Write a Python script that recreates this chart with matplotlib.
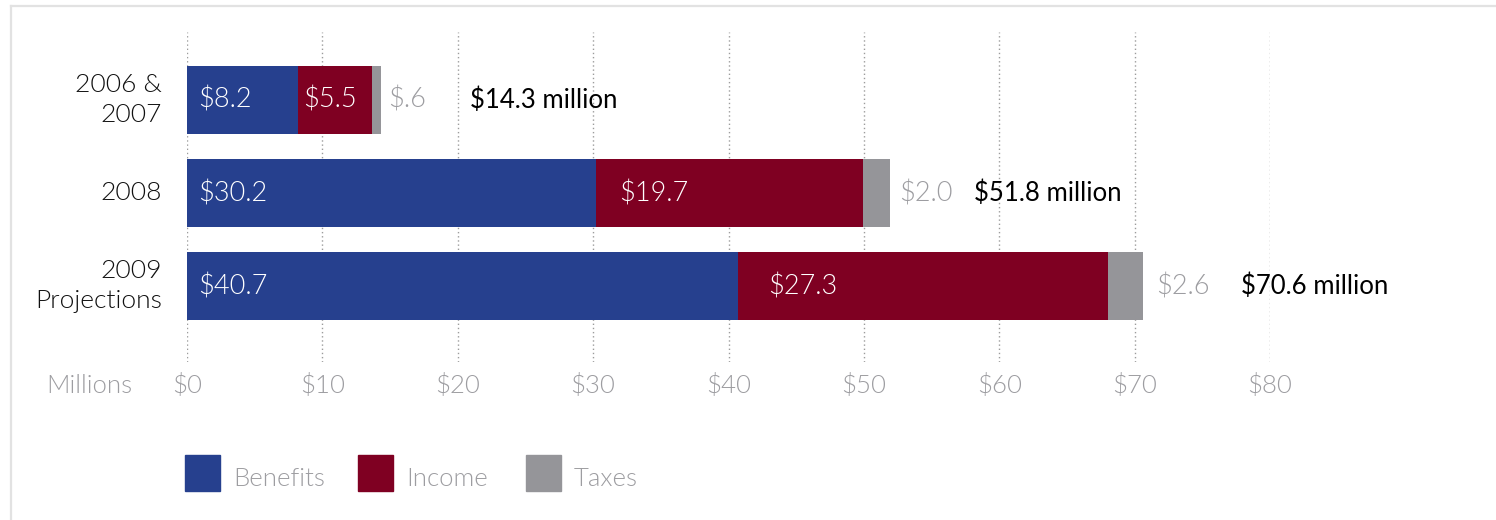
import matplotlib
matplotlib.use("Agg")
import matplotlib.pyplot as plt
from matplotlib.patches import Rectangle
from matplotlib.lines import Line2D

categories = ["2006 &\n2007", "2008", "2009\nProjections"]
benefits = [8.2, 30.2, 40.7]
income = [5.5, 19.7, 27.3]
taxes = [0.6, 2.0, 2.6]
benefit_labels = ["$8.2", "$30.2", "$40.7"]
income_labels = ["$5.5", "$19.7", "$27.3"]
tax_labels = ["$.6", "$2.0", "$2.6"]
total_labels = ["$14.3 million", "$51.8 million", "$70.6 million"]
xticks = [0, 10, 20, 30, 40, 50, 60, 70, 80]
xtick_labels = ["$0", "$10", "$20", "$30", "$40", "$50", "$60", "$70", "$80"]
series_names = ["Benefits", "Income", "Taxes"]

BLUE = "#26408e"
RED = "#7f0022"
GREY = "#959599"
LGREY = "#9d9da1"

FONT = "Lato"
LW = 300
plt.rcParams["font.family"] = [FONT, "DejaVu Sans"]

fig = plt.figure(figsize=(14.96, 5.2), dpi=100)
W, H = 1496, 520

# frame
fig.add_artist(Line2D([11 / W, 1], [1 - 6 / H, 1 - 6 / H], color="#e2e2e2", lw=1.6))
fig.add_artist(Line2D([11 / W, 11 / W], [0, 1 - 6 / H], color="#e2e2e2", lw=1.6))

ax = fig.add_axes([187 / W, 1 - 362 / H, (1270 - 187) / W, 330 / H])
ax.set_xlim(0, 80)
ax.set_ylim(2.817, -0.731)
for s in ax.spines.values():
    s.set_visible(False)
ax.set_xticks([])
ax.set_yticks([])

for xv in xticks:
    ax.axvline(xv, color="#9c9c9c", lw=1.0, ls=(0, (1, 2)), zorder=0)

ypos = list(range(len(categories)))
bh = 0.73
left_inc = [b for b in benefits]
left_tax = [b + i for b, i in zip(benefits, income)]
ax.barh(ypos, benefits, height=bh, color=BLUE, zorder=2)
ax.barh(ypos, income, left=left_inc, height=bh, color=RED, zorder=2)
ax.barh(ypos, taxes, left=left_tax, height=bh, color=GREY, zorder=2)

px = 0.72  # points per pixel
inc_off = [5, 23, 30]
tax_off = [8, 10, 13]
tot_off = [89, 84, 98]
for k, y in enumerate(ypos):
    ax.annotate(benefit_labels[k], (0, y), xytext=(11 * px, 0), textcoords="offset points",
                va="center", ha="left", color="white", fontsize=19.5, fontweight=LW)
    ax.annotate(income_labels[k], (left_inc[k], y), xytext=(inc_off[k] * px, 0),
                textcoords="offset points", va="center", ha="left", color="white",
                fontsize=19.5, fontweight=LW)
    end = left_tax[k] + taxes[k]
    ax.annotate(tax_labels[k], (end, y), xytext=(tax_off[k] * px, 0),
                textcoords="offset points", va="center", ha="left", color=LGREY,
                fontsize=19.5, fontweight=LW, annotation_clip=False)
    ax.annotate(total_labels[k], (end, y), xytext=(tot_off[k] * px, 0),
                textcoords="offset points", va="center", ha="left", color="black",
                fontsize=18.5, fontweight="normal", annotation_clip=False)
    ax.annotate(categories[k], (0, y), xytext=(-25 * px, 0), textcoords="offset points",
                va="center", ha="right", color="#111111", fontsize=19,
                fontweight=LW, linespacing=1.3, annotation_clip=False)

for xv, lab in zip(xticks, xtick_labels):
    ax.annotate(lab, (xv, 2.817), xytext=(0, -24 * px), textcoords="offset points",
                va="center", ha="center", color=LGREY, fontsize=18.5,
                fontweight=LW, annotation_clip=False)
fig.text(89 / W, 1 - 386 / H, "Millions", ha="center", va="center", color=LGREY,
         fontsize=18.5, fontweight=LW)

# legend
colors = [BLUE, RED, GREY]
sq_x = [185, 358, 526]
for name, c, x0 in zip(series_names, colors, sq_x):
    fig.add_artist(Rectangle((x0 / W, 1 - 491 / H), 35 / W, 36 / H, color=c,
                             transform=fig.transFigure))
    fig.text((x0 + 48) / W, 1 - 479 / H, name, ha="left", va="center", color=LGREY,
             fontsize=18.5, fontweight=LW)

fig.savefig("out.png", dpi=100)
